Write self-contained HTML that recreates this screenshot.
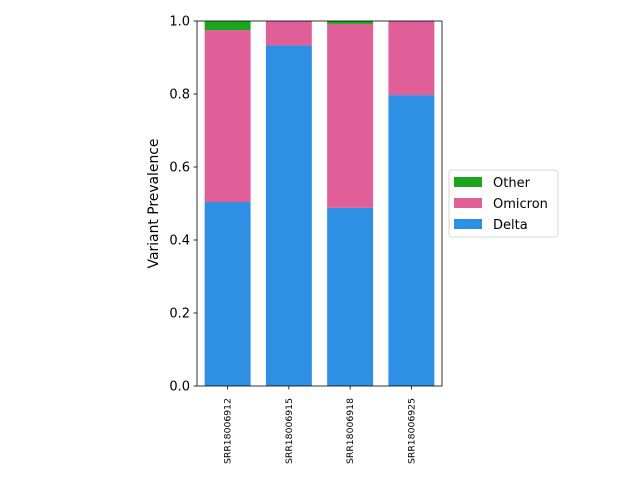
<!DOCTYPE html>
<html><head><meta charset="utf-8"><style>body{margin:0;background:#fff}svg{display:block;font-family:"DejaVu Sans","Liberation Sans",sans-serif}</style></head>
<body>
<svg id="chart" width="640" height="480" viewBox="0 0 640 480" xmlns="http://www.w3.org/2000/svg"></svg>
<script>
const categories = ["SRR18006912","SRR18006915","SRR18006918","SRR18006925"];
const delta = [0.504, 0.933, 0.488, 0.797];
const omicron = [0.471, 0.067, 0.504, 0.203];
const other = [0.025, 0.0, 0.008, 0.0];
const yTicks = [0, 0.2, 0.4, 0.6, 0.8, 1.0];
const yTickLabels = ["0.0","0.2","0.4","0.6","0.8","1.0"];
const series = [
  {name:"Delta", values:delta, color:"#2e90e5"},
  {name:"Omicron", values:omicron, color:"#e05f99"},
  {name:"Other", values:other, color:"#1ca51c"}
];
const NS="http://www.w3.org/2000/svg";
const svg=document.getElementById('chart');
const L=197,R=442,T=21,B=386;
const x=i=>L+(i+0.5)*(R-L)/categories.length;
const y=v=>B-v*(B-T);
const bw=0.75*(R-L)/categories.length;
function mk(tag,attrs,parent){const e=document.createElementNS(NS,tag);for(const k in attrs)e.setAttribute(k,attrs[k]);(parent||svg).appendChild(e);return e;}
const plot=mk('g',{});


categories.forEach((c,i)=>{
  let base=0;
  series.forEach(s=>{
    const v=s.values[i];
    const r=mk('rect',{x:x(i)-bw/2,y:y(base+v),width:bw,height:y(base)-y(base+v),fill:s.color},plot);
    
    
    base+=v;
  });
  const t=mk('line',{x1:x(i),x2:x(i),y1:B,y2:B+3.5,stroke:'#000','stroke-width':0.8});
  
  
  const lb=mk('text',{x:0,y:0,'font-size':8.5,'text-anchor':'end',textLength:66,lengthAdjust:'spacingAndGlyphs',transform:`translate(${x(i)+3},${B+12}) rotate(-90)`});
  lb.textContent=c;
  
  
});
yTicks.forEach((v,k)=>{
  const t=mk('line',{x1:L-3.5,x2:L,y1:y(v),y2:y(v),stroke:'#000','stroke-width':0.8});
  
  
  const lb=mk('text',{x:L-7,y:y(v)+4.5,'font-size':13,'text-anchor':'end'});
  lb.textContent=yTickLabels[k];
  
  
});
const fr=mk('rect',{x:L,y:T,width:R-L,height:B-T,fill:'none',stroke:'#000','stroke-width':0.8});


const yt=mk('text',{x:0,y:0,'font-size':13.9,'text-anchor':'middle',transform:`translate(158,${(T+B)/2}) rotate(-90)`});
yt.textContent='Variant Prevalence';


const lg=mk('g',{});


mk('rect',{x:449,y:170,width:109,height:67,rx:3,fill:'#fff',stroke:'#ccc','stroke-width':0.8},lg);
[series[2],series[1],series[0]].forEach((s,k)=>{
  const yy=177+k*21;
  const sw=mk('rect',{x:454,y:yy,width:28,height:10,fill:s.color},lg);
  
  
  const tx=mk('text',{x:493,y:yy+10,'font-size':13},lg);
  tx.textContent=s.name;
  
  
});
</script>
</body></html>
